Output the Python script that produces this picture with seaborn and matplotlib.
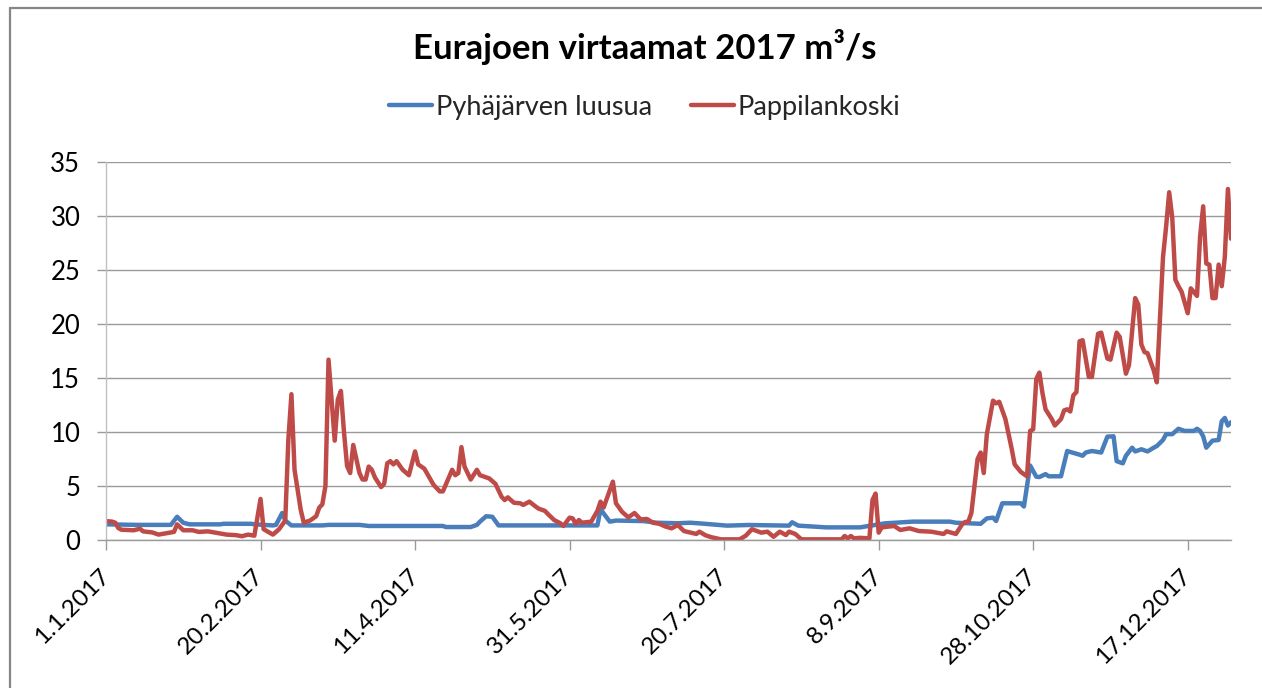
import numpy as np
import pandas as pd
import matplotlib
matplotlib.use("Agg")
import matplotlib.pyplot as plt
from matplotlib.lines import Line2D
import seaborn as sns

# ---------------- data ----------------
title = "Eurajoen virtaamat 2017 m³/s"
series_names = ["Pyhäjärven luusua", "Pappilankoski"]
series_colors = ["#4A7EBB", "#BE4B48"]
start_date = "2017-01-01"
end_date = "2017-12-31"
tick_labels = ["1.1.2017", "20.2.2017", "11.4.2017", "31.5.2017",
               "20.7.2017", "8.9.2017", "28.10.2017", "17.12.2017"]
y_ticks = [0, 5, 10, 15, 20, 25, 30, 35]

# day offsets from 1.1.2017 and flow values (m3/s)
blue_days = [0, 10, 21, 23, 25, 27, 37, 38, 47, 48,
             54, 55, 57, 58, 60, 70, 72, 82, 85, 109,
             110, 118, 120, 121, 123, 125, 127, 159, 160, 163,
             165, 174, 178, 185, 189, 192, 201, 208, 221, 222,
             224, 233, 244, 252, 261, 273, 275, 283, 285, 287,
             288, 290, 296, 297, 299, 301, 302, 304, 305, 309,
             311, 312, 315, 316, 317, 319, 322, 324, 326, 327,
             329, 330, 332, 333, 335, 337, 339, 340, 342, 343,
             345, 347, 349, 352, 353, 354, 355, 356, 358, 360,
             361, 362, 363, 364]
blue_vals = [1.45, 1.4, 1.4, 2.15, 1.6, 1.45, 1.45, 1.5, 1.5, 1.45,
             1.35, 1.4, 2.5, 1.8, 1.35, 1.35, 1.4, 1.4, 1.3, 1.3,
             1.2, 1.2, 1.4, 1.7, 2.2, 2.15, 1.35, 1.35, 2.85, 1.7,
             1.8, 1.75, 1.6, 1.55, 1.6, 1.54, 1.33, 1.39, 1.33, 1.64,
             1.33, 1.17, 1.17, 1.54, 1.7, 1.7, 1.6, 1.5, 2.0, 2.07,
             1.76, 3.4, 3.4, 3.1, 6.9, 5.86, 5.83, 6.1, 5.9, 5.9,
             8.24, 8.15, 7.9, 7.8, 8.1, 8.24, 8.1, 9.57, 9.6, 7.3,
             7.1, 7.8, 8.55, 8.2, 8.4, 8.2, 8.55, 8.7, 9.26, 9.8,
             9.8, 10.3, 10.1, 10.1, 10.3, 10.1, 9.6, 8.55, 9.2, 9.26,
             11.0, 11.3, 10.6, 10.9]

red_days = [0, 2, 3, 4, 5, 9, 11, 12, 15, 17,
            19, 22, 23, 25, 28, 30, 33, 35, 37, 39,
            42, 44, 46, 48, 50, 51, 54, 56, 58, 59,
            60, 61, 63, 64, 66, 68, 69, 70, 71, 72,
            74, 75, 76, 77, 78, 79, 80, 81, 82, 83,
            84, 85, 86, 87, 89, 90, 91, 92, 93, 94,
            96, 98, 100, 101, 102, 103, 106, 108, 109, 112,
            113, 114, 115, 116, 118, 120, 121, 124, 126, 128,
            129, 130, 132, 134, 135, 137, 139, 140, 142, 143,
            145, 147, 148, 150, 151, 152, 153, 154, 157, 159,
            160, 161, 164, 165, 167, 169, 171, 173, 175, 177,
            179, 181, 183, 185, 187, 191, 192, 194, 196, 199,
            205, 207, 209, 212, 214, 216, 218, 220, 221, 223,
            225, 238, 239, 240, 241, 242, 244, 247, 248, 249,
            250, 251, 255, 257, 260, 263, 267, 271, 272, 275,
            277, 278, 279, 280, 281, 282, 283, 284, 285, 287,
            288, 289, 291, 293, 294, 296, 298, 299, 300, 301,
            302, 303, 304, 306, 307, 308, 309, 310, 311, 312,
            313, 314, 315, 316, 318, 319, 321, 322, 324, 325,
            327, 328, 330, 331, 333, 334, 335, 336, 337, 339,
            340, 342, 343, 344, 345, 346, 347, 348, 350, 351,
            353, 354, 355, 356, 357, 358, 359, 360, 361, 362,
            363, 364]
red_vals = [1.75, 1.7, 1.6, 1.1, 0.95, 0.9, 1.05, 0.8, 0.7, 0.5,
            0.6, 0.75, 1.45, 0.9, 0.9, 0.75, 0.8, 0.7, 0.6, 0.5,
            0.45, 0.35, 0.5, 0.4, 3.8, 1.0, 0.5, 1.0, 1.8, 9.3,
            13.5, 6.5, 2.8, 1.6, 1.8, 2.2, 3.0, 3.3, 5.0, 16.7,
            9.2, 13.0, 13.8, 10.0, 6.85, 6.2, 8.8, 7.5, 6.2, 5.6,
            5.6, 6.8, 6.5, 5.8, 4.9, 5.2, 7.1, 7.3, 7.0, 7.3,
            6.5, 6.0, 8.2, 7.0, 6.8, 6.6, 5.1, 4.5, 4.5, 6.5,
            6.0, 6.2, 8.6, 6.8, 5.6, 6.5, 6.0, 5.7, 5.2, 4.0,
            3.7, 3.95, 3.45, 3.4, 3.25, 3.55, 3.1, 2.9, 2.7, 2.4,
            1.85, 1.55, 1.3, 2.07, 2.0, 1.5, 1.85, 1.6, 1.7, 2.7,
            3.55, 3.0, 5.4, 3.4, 2.6, 2.1, 2.5, 1.9, 1.95, 1.6,
            1.5, 1.25, 1.08, 1.39, 0.83, 0.56, 0.77, 0.43, 0.25, 0.06,
            0.06, 0.4, 1.0, 0.68, 0.77, 0.3, 0.77, 0.46, 0.77, 0.56,
            0.06, 0.06, 0.37, 0.15, 0.37, 0.15, 0.2, 0.15, 3.7, 4.3,
            0.68, 1.17, 1.3, 0.93, 1.08, 0.83, 0.77, 0.56, 0.8, 0.56,
            1.45, 1.67, 1.7, 2.5, 5.0, 7.5, 8.1, 6.2, 9.8, 12.9,
            12.65, 12.8, 11.2, 8.5, 7.0, 6.3, 5.9, 10.1, 10.25, 14.9,
            15.5, 13.6, 12.1, 11.2, 10.6, 10.9, 11.2, 12.0, 12.1, 11.9,
            13.4, 13.7, 18.4, 18.5, 15.1, 15.1, 19.1, 19.2, 16.8, 16.7,
            19.2, 18.8, 15.4, 16.2, 22.4, 21.8, 18.1, 17.4, 17.3, 15.7,
            14.6, 26.2, 29.0, 32.2, 29.8, 24.1, 23.5, 23.0, 21.0, 23.3,
            22.6, 28.1, 30.9, 25.6, 25.5, 22.4, 22.4, 25.5, 23.5, 26.2,
            32.5, 27.9]

assert len(blue_days) == len(blue_vals)
assert len(red_days) == len(red_vals)

# ---------------- build table ----------------
t0 = pd.Timestamp(start_date)
df = pd.concat([
    pd.DataFrame({"date": t0 + pd.to_timedelta(blue_days, unit="D"),
                  "flow": blue_vals, "series": series_names[0]}),
    pd.DataFrame({"date": t0 + pd.to_timedelta(red_days, unit="D"),
                  "flow": red_vals, "series": series_names[1]}),
], ignore_index=True)

# ---------------- style ----------------
sns.set_style("white")
plt.rcParams["font.family"] = ["Lato", "DejaVu Sans"]

W, H = 1262, 688
fig = plt.figure(figsize=(W / 100, H / 100), dpi=100)
ax = fig.add_axes([106 / W, 1 - 540 / H, 1125 / W, 378 / H])

sns.lineplot(data=df, x="date", y="flow", hue="series",
             palette=dict(zip(series_names, series_colors)),
             hue_order=series_names, estimator=None, sort=True,
             linewidth=3.2, solid_joinstyle="round", solid_capstyle="round",
             ax=ax)

handles, labels = ax.get_legend_handles_labels()
if ax.legend_ is not None:
    ax.legend_.remove()

grid_c = "#9A9A9A"
ax.set_ylim(y_ticks[0], y_ticks[-1])
ax.set_xlim(t0, pd.Timestamp(end_date))
ax.set_yticks(y_ticks)
ax.set_yticklabels([str(v) for v in y_ticks])
ax.yaxis.grid(True, color=grid_c, linewidth=1.0)
ax.xaxis.grid(False)
ax.set_axisbelow(True)

tick_pos = pd.to_datetime(tick_labels, format="%d.%m.%Y")
ax.set_xticks(tick_pos)
ax.set_xticklabels(tick_labels, rotation=45, ha="right", va="center",
                   rotation_mode="anchor")

for s in ["top", "right"]:
    ax.spines[s].set_visible(False)
ax.spines["left"].set_color("#C0C0C0")
ax.spines["left"].set_linewidth(1.0)
ax.spines["bottom"].set_color(grid_c)
ax.spines["bottom"].set_linewidth(1.0)

ax.tick_params(axis="y", length=6.5, width=1.0, color=grid_c, pad=12,
               labelsize=18.5, labelcolor="black", direction="out", left=True)
ax.tick_params(axis="x", length=7.5, width=1.0, color=grid_c, pad=16,
               labelsize=17.5, labelcolor="black", direction="out", bottom=True)
ax.set_xlabel("")
ax.set_ylabel("")

# title and legend
fig.text(0.511, 1 - 47 / H, title, ha="center", va="center",
         fontsize=25, fontweight="bold", color="black")
fig.legend(handles, labels, loc="center", bbox_to_anchor=(0.511, 1 - 107 / H),
           ncol=2, frameon=False, fontsize=19.5, handlelength=1.6,
           handletextpad=0.15, columnspacing=1.4)

# chart-area border (left and top visible in crop)
bc = "#868686"
fig.add_artist(Line2D([10 / W, 10 / W], [0, 1 - 8 / H], transform=fig.transFigure,
                      color=bc, linewidth=1.6))
fig.add_artist(Line2D([10 / W, 1.0], [1 - 8 / H, 1 - 8 / H], transform=fig.transFigure,
                      color=bc, linewidth=1.6))

fig.savefig("out.png", dpi=100)
